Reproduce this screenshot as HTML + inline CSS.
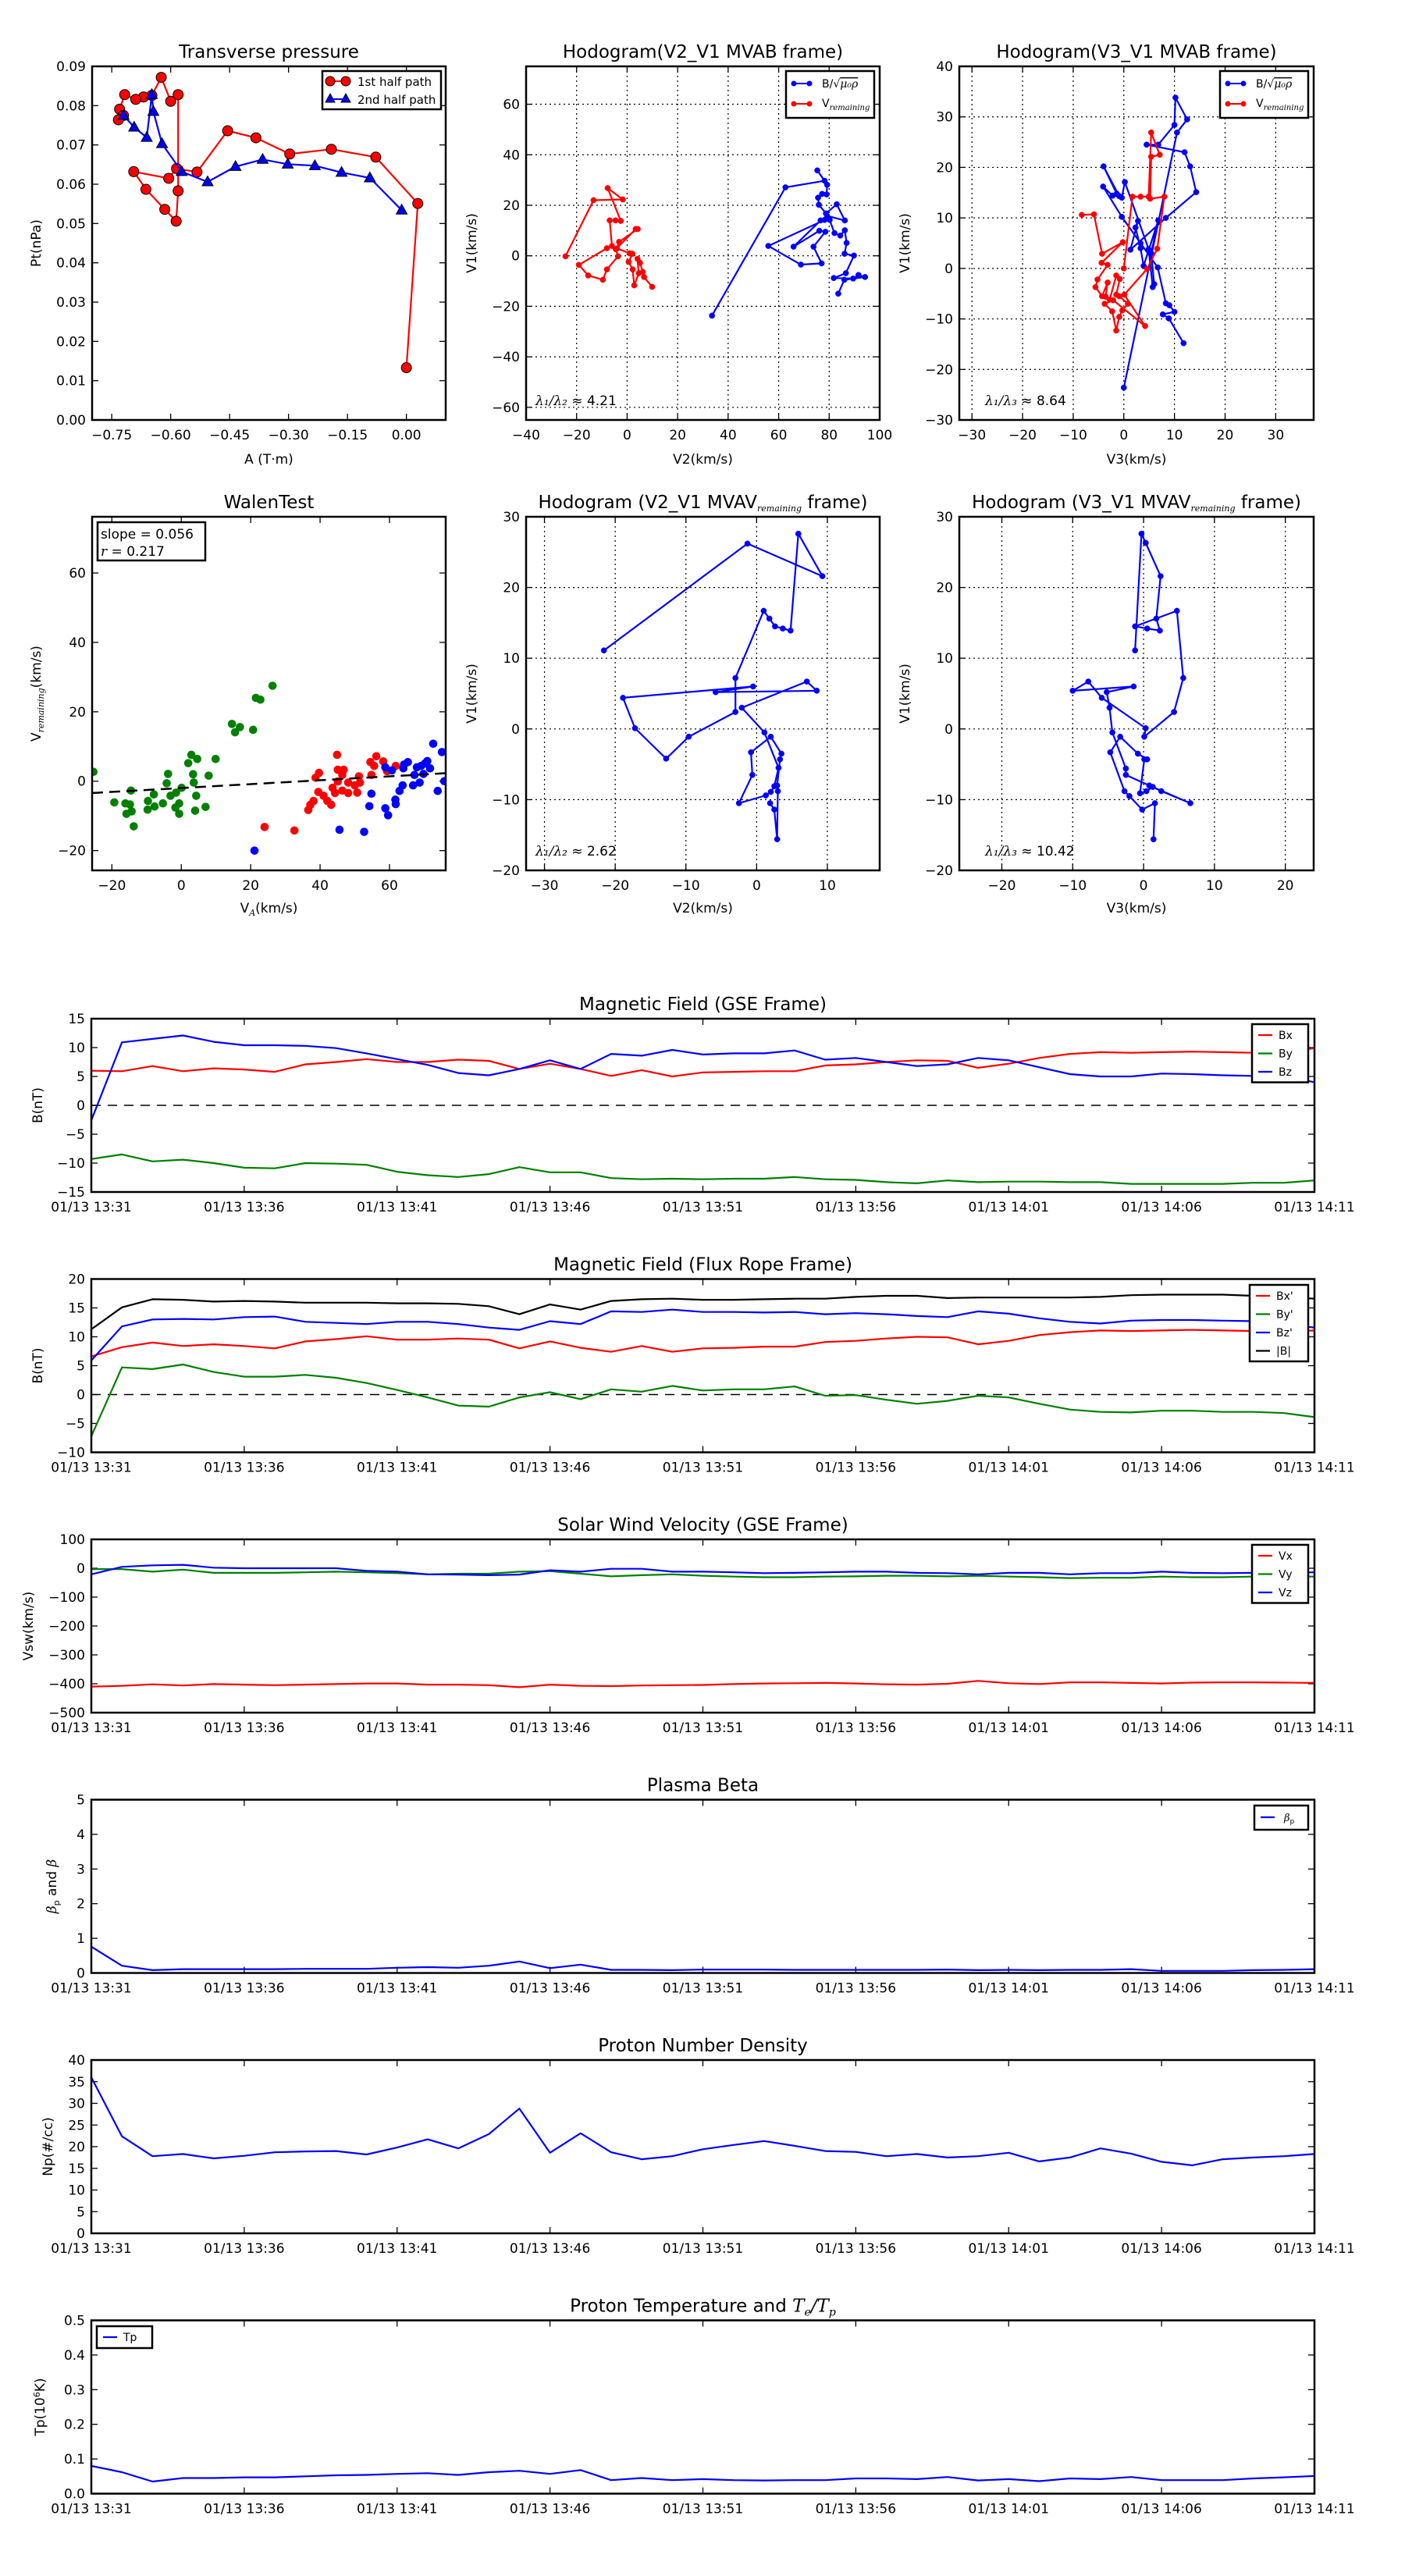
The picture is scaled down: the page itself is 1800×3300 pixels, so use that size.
<!DOCTYPE html>
<html><head><meta charset="utf-8"><title>Flux rope analysis</title>
<style>
html,body{margin:0;padding:0;background:#fff;}
svg{display:block;font-family:"DejaVu Sans","Liberation Sans",sans-serif;}
</style></head>
<body>
<svg id="fig" xmlns="http://www.w3.org/2000/svg" width="1800" height="3300" viewBox="0 0 1800 3300">
<rect x="0" y="0" width="1800" height="3300" fill="#fff"/>
</svg>
<script>
// ---------- DATA ----------
const ptRedA = [0.0,0.029,-0.078,-0.191,-0.297,-0.383,-0.455,-0.533,-0.585,-0.605,-0.694,-0.663,-0.615,-0.586,-0.581,-0.581,-0.600,-0.624,-0.648,-0.669,-0.689,-0.717,-0.730,-0.720,-0.733];
const ptRedP = [0.0133,0.0551,0.0669,0.0689,0.0677,0.0718,0.0736,0.0631,0.0640,0.0615,0.0632,0.0587,0.0536,0.0506,0.0583,0.0828,0.0811,0.0872,0.0826,0.0822,0.0816,0.0828,0.0791,0.0775,0.0764];
const ptBlueA = [-0.012,-0.093,-0.165,-0.233,-0.302,-0.366,-0.435,-0.506,-0.572,-0.622,-0.644,-0.648,-0.661,-0.693,-0.720];
const ptBlueP = [0.0534,0.0616,0.0630,0.0647,0.0651,0.0663,0.0645,0.0606,0.0632,0.0703,0.0785,0.0828,0.0719,0.0745,0.0775];

const h1B = [[33.6,-23.7],[62.7,27.1],[78.2,29.7],[75.3,33.8],[79.2,28.1],[79.0,24.3],[77.2,24.5],[75.6,23.0],[75.9,20.2],[78.7,16.8],[83.0,20.4],[86.2,14.0],[79.2,15.8],[76.6,14.0],[65.9,3.6],[76.1,9.9],[78.5,9.5],[73.8,3.6],[77.0,-3.0],[68.8,-3.5],[55.9,3.9],[78.2,14.2],[80.2,14.2],[82.1,9.0],[84.4,8.0],[86.2,10.1],[86.9,5.1],[86.1,0.8],[89.8,0.1],[86.6,-6.9],[81.8,-8.8],[89.5,-9.0],[91.6,-7.6],[94.2,-8.4],[86.0,-9.5],[83.6,-15.0]];
const h1V = [[-24.4,-0.2],[-13.3,22.0],[-1.7,22.3],[-7.7,26.8],[-2.5,13.8],[-4.6,14.0],[-6.9,14.0],[-6.0,3.9],[-8.0,3.0],[-19.1,-3.6],[-15.4,-7.8],[-9.6,-9.5],[-8.0,-5.4],[-3.6,-0.2],[-4.5,2.6],[3.4,10.6],[4.2,10.6],[-3.2,5.5],[-4.0,2.9],[1.0,1.0],[2.1,0.8],[0.6,-2.4],[2.2,-5.4],[2.8,-11.7],[4.6,-6.9],[4.1,-1.2],[5.1,-2.8],[6.2,-6.4],[6.7,-8.4],[9.9,-12.3]];
const h2B = [[0,-23.6],[10.5,26.9],[12.5,29.5],[10.2,33.8],[10.0,28.4],[6.8,24.5],[4.5,24.5],[12.0,23.0],[13.1,20.2],[14.3,15.1],[8.3,10.0],[1.3,3.7],[2.8,9.4],[2.3,8.1],[3.3,4.0],[3.9,0.5],[6.8,9.5],[5.4,3.0],[6.0,-3.1],[5.7,-3.7],[4.9,3.8],[0.2,17.1],[-0.4,14.0],[-1.4,14.8],[-4.0,20.2],[-0.9,14.3],[-2.2,14.4],[-4.1,16.2],[-0.4,10.2],[3.3,5.0],[6.7,0.2],[8.3,-6.9],[9.0,-7.3],[10.0,-8.6],[7.7,-9.1],[8.9,-9.9],[11.8,-14.8]];
const h2V = [[-8.3,10.6],[-5.9,10.7],[-4.3,2.9],[-0.2,5.2],[-4.4,1.1],[-3.2,0.7],[-5.2,-2.2],[-5.6,-3.7],[-4.3,-5.5],[-3.2,-2.8],[-3.6,-5.6],[-2.8,-6.2],[-1.5,-1.4],[-0.8,-2.1],[-1.5,-5.2],[-0.9,-5.5],[0.8,-7.0],[-0.3,-8.3],[-0.9,-9.6],[-1.5,-12.3],[-2.3,-8.5],[-3.8,-7.0],[-2.1,-6.3],[4.2,-11.4],[0.1,-5.2],[4.6,-0.1],[6.6,3.9],[8.0,14.2],[5.2,13.8],[5.4,22.1],[7.1,22.5],[5.4,26.9],[4.9,14.2],[3.3,14.2],[1.7,14.2],[0,0]];
const walenGreen = [[-25.3,2.7],[-19.3,-6.1],[-16.1,-6.4],[-14.8,-6.7],[-15.8,-9.4],[-14.3,-8.7],[-14.5,-2.7],[-13.7,-13.0],[-9.6,-5.7],[-9.7,-8.2],[-7.9,-3.8],[-7.7,-7.3],[-5.3,-6.4],[-4.2,-0.6],[-3.8,2.1],[-3.1,-4.2],[-1.7,-7.6],[-1.5,-3.3],[-0.6,-6.4],[-0.6,-9.4],[0.1,-1.9],[2.0,5.2],[2.9,7.6],[3.4,2.0],[3.6,-0.4],[4.3,-4.2],[4.0,-8.5],[4.6,6.4],[7.0,-7.4],[7.9,1.6],[9.9,6.4],[14.6,16.5],[15.5,14.1],[16.9,15.6],[20.7,14.8],[21.5,24.0],[22.8,23.5],[26.3,27.5]];
const walenRed = [[24.0,-13.2],[32.6,-14.2],[36.6,-8.3],[37.2,-6.8],[38.1,-5.7],[38.7,1.0],[39.7,2.4],[39.5,-3.1],[41.0,-4.2],[42.1,-5.7],[43.2,-6.8],[43.6,-1.9],[44.3,-3.4],[45.1,-0.1],[44.9,7.6],[45.1,3.3],[46.8,3.3],[46.4,1.8],[46.4,-2.7],[48.1,-0.4],[48.1,-3.4],[50.0,-1.2],[50.7,-3.3],[51.2,1.4],[51.5,-0.4],[54.8,1.8],[54.5,5.5],[55.6,4.4],[56.2,7.2],[58.2,5.7],[59.3,2.9],[61.8,4.4]];
const walenBlue = [[21.1,-20.0],[45.6,-14.0],[52.7,-14.6],[54.2,-7.2],[54.8,-3.6],[58.8,-7.8],[59.6,-9.8],[58.8,4.0],[60.7,3.1],[61.7,-5.3],[61.8,-6.6],[62.9,-2.8],[63.8,-1.2],[64.0,3.7],[65.3,5.5],[64.2,4.8],[66.8,-1.2],[67.2,1.8],[67.9,4.0],[68.7,-0.4],[69.1,4.4],[69.8,2.1],[70.2,5.1],[70.9,5.8],[71.7,3.7],[72.6,10.8],[73.9,-2.8],[75.1,8.4],[75.8,0.0]];
const walenSlope = 0.056;
const walenIntercept = -1.96;
const h3B = [[-21.6,11.1],[-1.3,26.2],[9.3,21.6],[5.9,27.6],[4.8,13.9],[3.7,14.2],[2.6,14.5],[1.8,15.6],[1.0,16.7],[-3.0,7.2],[-3.0,2.4],[-9.6,-1.1],[-12.8,-4.2],[-17.2,0.1],[-18.9,4.4],[-0.5,6.0],[-5.8,5.2],[8.5,5.4],[7.1,6.7],[-2.1,3.0],[1.1,-0.5],[3.1,-5.5],[2.5,-8.1],[2.0,-8.9],[1.3,-9.4],[-2.5,-10.5],[-0.6,-6.5],[-0.8,-3.3],[2.0,-1.1],[3.5,-3.5],[3.3,-4.3],[2.9,-8.0],[3.0,-8.8],[2.9,-15.6],[2.5,-11.4],[1.9,-10.5]];
const h4B = [[-1.2,11.1],[-0.3,27.6],[0.3,26.3],[2.4,21.6],[1.8,15.6],[2.3,13.9],[0.5,14.2],[-1.2,14.5],[4.7,16.7],[5.6,7.2],[4.3,2.4],[0.1,-1.1],[0.3,0.1],[-5.9,4.4],[-7.8,6.7],[-10.0,5.4],[-1.4,6.0],[-5.2,5.2],[-4.8,3.0],[-4.4,-0.5],[-2.5,-5.6],[-2.5,-6.5],[0.8,-8.0],[6.6,-10.5],[2.5,-8.8],[1.3,-8.2],[0.4,-8.8],[-0.5,-9.1],[0.1,-4.3],[0.5,-4.3],[-0.8,-3.5],[-3.3,-1.1],[-4.7,-3.3],[-2.7,-8.8],[-2.0,-9.5],[-0.2,-11.4],[1.6,-10.5],[1.4,-15.6]];

const timeLabels = ["01/13 13:31","01/13 13:36","01/13 13:41","01/13 13:46","01/13 13:51","01/13 13:56","01/13 14:01","01/13 14:06","01/13 14:11"];
const bx = [6.0,5.9,6.8,5.9,6.4,6.2,5.8,7.1,7.5,8.0,7.5,7.5,7.9,7.7,6.3,7.2,6.3,5.1,6.1,5.0,5.7,5.8,5.9,5.9,6.9,7.1,7.5,7.8,7.7,6.5,7.2,8.2,8.9,9.2,9.1,9.2,9.3,9.2,9.1,9.1,9.9];
const by = [-9.3,-8.5,-9.7,-9.4,-10.0,-10.8,-10.9,-10.0,-10.1,-10.3,-11.5,-12.1,-12.4,-11.9,-10.7,-11.6,-11.6,-12.6,-12.8,-12.7,-12.8,-12.7,-12.7,-12.4,-12.8,-12.9,-13.3,-13.5,-13.0,-13.3,-13.2,-13.2,-13.3,-13.3,-13.6,-13.6,-13.6,-13.6,-13.4,-13.4,-13.0];
const bz = [-2.6,10.9,11.5,12.1,11.0,10.4,10.4,10.3,9.9,9.0,8.0,7.0,5.6,5.2,6.3,7.8,6.3,8.9,8.6,9.6,8.8,9.0,9.0,9.5,7.9,8.2,7.5,6.8,7.1,8.2,7.8,6.6,5.4,5.0,5.0,5.5,5.4,5.2,5.1,5.1,4.0];
const bxp = [6.6,8.2,9.0,8.4,8.7,8.4,8.0,9.2,9.6,10.1,9.5,9.5,9.7,9.5,8.0,9.2,8.1,7.4,8.4,7.4,8.0,8.1,8.3,8.3,9.1,9.3,9.7,10.0,9.9,8.7,9.3,10.3,10.8,11.1,11.0,11.1,11.2,11.1,11.0,10.9,11.1];
const byp = [-7.2,4.7,4.4,5.2,3.9,3.1,3.1,3.4,2.9,2.0,0.8,-0.5,-1.9,-2.1,-0.5,0.4,-0.8,0.9,0.5,1.5,0.7,0.9,0.9,1.4,-0.2,-0.1,-0.9,-1.6,-1.1,-0.2,-0.5,-1.6,-2.6,-3.0,-3.1,-2.8,-2.8,-3.0,-3.0,-3.2,-3.9];
const bzp = [5.9,11.8,13.0,13.1,13.0,13.4,13.5,12.6,12.4,12.2,12.6,12.6,12.2,11.6,11.2,12.7,12.2,14.4,14.3,14.7,14.3,14.3,14.2,14.3,13.9,14.1,13.9,13.6,13.4,14.4,14.0,13.2,12.6,12.3,12.8,12.9,12.9,12.8,12.7,12.2,11.6];
const bmag = [11.3,15.1,16.5,16.4,16.1,16.2,16.1,15.9,15.9,15.9,15.8,15.8,15.7,15.3,13.9,15.6,14.7,16.2,16.5,16.6,16.4,16.4,16.5,16.6,16.6,16.9,17.1,17.1,16.7,16.8,16.8,16.8,16.8,16.9,17.2,17.3,17.3,17.3,17.1,16.9,16.6];
const vx = [-410,-407,-402,-406,-401,-403,-405,-403,-401,-399,-399,-403,-403,-405,-412,-403,-407,-408,-406,-405,-404,-401,-399,-398,-397,-399,-402,-403,-400,-390,-398,-401,-395,-395,-397,-399,-396,-395,-395,-396,-397];
const vy = [-3,-3,-12,-5,-16,-16,-16,-14,-12,-14,-17,-21,-19,-19,-12,-10,-19,-28,-24,-21,-26,-29,-31,-31,-29,-28,-26,-26,-28,-26,-29,-31,-34,-33,-33,-29,-31,-31,-29,-29,-29];
const vz = [-21,5,10,12,2,0,0,0,0,-9,-12,-21,-22,-24,-22,-7,-12,-2,-2,-12,-12,-14,-17,-16,-14,-12,-12,-16,-17,-21,-16,-16,-21,-17,-17,-12,-16,-17,-16,-16,-14];
const betaP = [0.76,0.21,0.08,0.11,0.11,0.11,0.11,0.12,0.12,0.12,0.15,0.17,0.15,0.21,0.33,0.14,0.24,0.09,0.09,0.08,0.10,0.10,0.10,0.09,0.09,0.09,0.09,0.09,0.10,0.08,0.09,0.08,0.09,0.09,0.11,0.06,0.06,0.06,0.08,0.09,0.11];
const np = [36,22.4,17.8,18.3,17.3,17.9,18.7,18.9,19,18.2,19.8,21.7,19.6,22.9,28.8,18.6,23.1,18.7,17.1,17.8,19.4,20.4,21.3,20.2,19,18.8,17.8,18.3,17.5,17.8,18.6,16.6,17.5,19.6,18.4,16.5,15.7,17.1,17.5,17.8,18.3];
const tp = [0.080,0.062,0.035,0.045,0.045,0.047,0.047,0.050,0.053,0.054,0.057,0.059,0.054,0.062,0.066,0.057,0.068,0.039,0.045,0.039,0.042,0.039,0.038,0.039,0.039,0.044,0.044,0.042,0.048,0.038,0.042,0.036,0.044,0.042,0.048,0.039,0.039,0.039,0.044,0.047,0.051];

// ---------- DRAWING ----------
const NS = 'http://www.w3.org/2000/svg';
const svg = document.getElementById('fig');
function el(tag, attrs, name, parent) {
  const e = document.createElementNS(NS, tag);
  for (const k in attrs) e.setAttribute(k, attrs[k]);
  
  
  (parent || svg).appendChild(e);
  return e;
}
function txt(x, y, s, size, anchor, name, extra) {
  const a = Object.assign({x: x, y: y, 'font-size': size, 'text-anchor': anchor || 'middle', fill: '#000'}, extra || {});
  const t = el('text', a, name);
  t.innerHTML = s;
  return t;
}
function fmtNum(v) { return String(v).replace('-', '\u2212'); }

function panel(c) {
  const sx = v => c.x0 + (v - c.xr[0]) / (c.xr[1] - c.xr[0]) * c.w;
  const sy = v => c.y0 + c.h - (v - c.yr[0]) / (c.yr[1] - c.yr[0]) * c.h;
  const g = el('g', {}, c.name);
  if (c.grid) {
    c.xt.forEach(v => el('line', {x1: sx(v), x2: sx(v), y1: c.y0, y2: c.y0 + c.h, stroke: '#000', 'stroke-width': 1.2, 'stroke-dasharray': '2,4'}, 'x-gridline', g));
    c.yt.forEach(v => el('line', {x1: c.x0, x2: c.x0 + c.w, y1: sy(v), y2: sy(v), stroke: '#000', 'stroke-width': 1.2, 'stroke-dasharray': '2,4'}, 'y-gridline', g));
  }
  c.xt.forEach((v, i) => {
    el('line', {x1: sx(v), x2: sx(v), y1: c.y0 + c.h, y2: c.y0 + c.h - 8, stroke: '#000', 'stroke-width': 1.3}, 'x-tick', g);
    el('line', {x1: sx(v), x2: sx(v), y1: c.y0, y2: c.y0 + 8, stroke: '#000', 'stroke-width': 1.3}, 'x-tick', g);
    txt(sx(v), c.y0 + c.h + 25, c.xl ? c.xl[i] : fmtNum(v), 17, 'middle', 'x-tick-label');
  });
  c.yt.forEach((v, i) => {
    el('line', {x1: c.x0, x2: c.x0 + 8, y1: sy(v), y2: sy(v), stroke: '#000', 'stroke-width': 1.3}, 'y-tick', g);
    el('line', {x1: c.x0 + c.w, x2: c.x0 + c.w - 8, y1: sy(v), y2: sy(v), stroke: '#000', 'stroke-width': 1.3}, 'y-tick', g);
    txt(c.x0 - 8, sy(v) + 6, c.yl ? c.yl[i] : fmtNum(v), 17, 'end', 'y-tick-label');
  });
  if (c.title) txt(c.x0 + c.w / 2, c.y0 - 11, c.title, 23, 'middle', 'chart-title');
  if (c.xlabel) txt(c.x0 + c.w / 2, c.y0 + c.h + (c.xlabelDy || 56), c.xlabel, 17, 'middle', 'x-axis-title');
  if (c.ylabel) txt(c.ylx, c.y0 + c.h / 2, c.ylabel, 17, 'middle', 'y-axis-title', {transform: 'rotate(-90 ' + c.ylx + ' ' + (c.y0 + c.h / 2) + ')'});
  return {sx, sy, c, g};
}
function frameBox(p) {
  el('rect', {x: p.c.x0, y: p.c.y0, width: p.c.w, height: p.c.h, fill: 'none', stroke: '#000', 'stroke-width': 2.5}, 'plot-frame');
}
function clipFor(p, id) {
  const cp = el('clipPath', {id: id}, 'clip');
  el('rect', {x: p.c.x0, y: p.c.y0, width: p.c.w, height: p.c.h}, 'clip-rect', cp);
  return 'url(#' + id + ')';
}
function line(p, xs, ys, color, name, clip, w) {
  const d = xs.map((x, i) => (i ? 'L' : 'M') + p.sx(x).toFixed(1) + ',' + p.sy(ys[i]).toFixed(1)).join('');
  return el('path', {d: d, fill: 'none', stroke: color, 'stroke-width': w || 2.2, 'stroke-linejoin': 'round', 'clip-path': clip || ''}, name);
}
function pairLine(p, pts, color, name, r, clip) {
  line(p, pts.map(q => q[0]), pts.map(q => q[1]), color, name + '-line', clip, 2.2);
  pts.forEach(q => el('circle', {cx: p.sx(q[0]), cy: p.sy(q[1]), r: r, fill: color, stroke: color, 'stroke-width': 0.5}, name + '-point'));
}
function legendBox(x, y, w, h) {
  el('rect', {x: x, y: y, width: w, height: h, fill: '#fff', stroke: '#000', 'stroke-width': 2.5}, 'legend');
}
const subIt = (s, fs) => '<tspan font-family="DejaVu Serif, Liberation Serif, serif" font-style="italic" font-size="' + (fs || 11) + '" dy="4">' + s + '</tspan>';

// ----- Row 1 -----
const p1 = panel({name: 'transverse-pressure-chart', x0: 118, y0: 85, w: 453, h: 453, xr: [-0.8, 0.1], yr: [0, 0.09],
  xt: [-0.75, -0.6, -0.45, -0.3, -0.15, 0], xl: ['\u22120.75', '\u22120.60', '\u22120.45', '\u22120.30', '\u22120.15', '0.00'],
  yt: [0, .01, .02, .03, .04, .05, .06, .07, .08, .09], yl: ['0.00','0.01','0.02','0.03','0.04','0.05','0.06','0.07','0.08','0.09'],
  title: 'Transverse pressure', xlabel: 'A (T\u00b7m)', ylabel: 'Pt(nPa)', ylx: 52});
line(p1, ptRedA, ptRedP, '#ff0000', 'first-half-line');
ptRedA.forEach((a, i) => el('circle', {cx: p1.sx(a), cy: p1.sy(ptRedP[i]), r: 6.5, fill: '#ff0000', stroke: '#000', 'stroke-width': 1}, 'first-half-point'));
line(p1, ptBlueA, ptBlueP, '#0000ff', 'second-half-line');
ptBlueA.forEach((a, i) => { const x = p1.sx(a), y = p1.sy(ptBlueP[i]);
  el('path', {d: 'M' + x + ',' + (y - 7.5) + 'L' + (x + 7) + ',' + (y + 5) + 'L' + (x - 7) + ',' + (y + 5) + 'Z', fill: '#0000ff', stroke: '#000', 'stroke-width': 1}, 'second-half-point'); });
frameBox(p1);
legendBox(413, 91, 152, 49);
el('line', {x1: 423, x2: 443, y1: 104, y2: 104, stroke: '#f00', 'stroke-width': 2}, 'legend-swatch');
el('circle', {cx: 423, cy: 104, r: 6, fill: '#f00', stroke: '#000'}, 'legend-marker');
el('circle', {cx: 443, cy: 104, r: 6, fill: '#f00', stroke: '#000'}, 'legend-marker');
txt(458, 110, '1st half path', 15, 'start', 'legend-label');
el('line', {x1: 423, x2: 443, y1: 127, y2: 127, stroke: '#00f', 'stroke-width': 2}, 'legend-swatch');
el('path', {d: 'M423,120L429,131L417,131Z M443,120L449,131L437,131Z', fill: '#00f', stroke: '#000'}, 'legend-marker');
txt(458, 133, '2nd half path', 15, 'start', 'legend-label');

const p2 = panel({name: 'hodogram-v2-v1-mvab', x0: 674, y0: 85, w: 453, h: 453, xr: [-40, 100], yr: [-65, 75], grid: true,
  xt: [-40, -20, 0, 20, 40, 60, 80, 100], yt: [-60, -40, -20, 0, 20, 40, 60],
  title: 'Hodogram(V2_V1 MVAB frame)', xlabel: 'V2(km/s)', ylabel: 'V1(km/s)', ylx: 610});
const c2 = clipFor(p2, 'c2');
pairLine(p2, h1B, '#0000ff', 'alfven-b', 3.6, c2);
pairLine(p2, h1V, '#ff0000', 'v-remaining', 3.6, c2);
frameBox(p2);
legendBox(1007, 91, 113, 60);
el('line', {x1: 1017, x2: 1037, y1: 107, y2: 107, stroke: '#00f', 'stroke-width': 2}, 'legend-swatch');
el('circle', {cx: 1017, cy: 107, r: 3.5, fill: '#00f'}, 'legend-marker');
el('circle', {cx: 1037, cy: 107, r: 3.5, fill: '#00f'}, 'legend-marker');
txt(1053, 112, 'B/\u221a<tspan font-family="DejaVu Serif, serif" font-style="italic" text-decoration="overline">\u03bc\u2080\u03c1</tspan>', 14, 'start', 'legend-label');
el('line', {x1: 1017, x2: 1037, y1: 133, y2: 133, stroke: '#f00', 'stroke-width': 2}, 'legend-swatch');
el('circle', {cx: 1017, cy: 133, r: 3.5, fill: '#f00'}, 'legend-marker');
el('circle', {cx: 1037, cy: 133, r: 3.5, fill: '#f00'}, 'legend-marker');
txt(1053, 137, 'V' + subIt('remaining', 10), 14, 'start', 'legend-label');
txt(686, 519, '<tspan font-family="DejaVu Serif, serif" font-style="italic">\u03bb\u2081/\u03bb\u2082</tspan> \u2248 4.21', 17, 'start', 'eigenvalue-ratio');

const p3 = panel({name: 'hodogram-v3-v1-mvab', x0: 1229, y0: 85, w: 454, h: 453, xr: [-32.5, 37.5], yr: [-30, 40], grid: true,
  xt: [-30, -20, -10, 0, 10, 20, 30], yt: [-30, -20, -10, 0, 10, 20, 30, 40],
  title: 'Hodogram(V3_V1 MVAB frame)', xlabel: 'V3(km/s)', ylabel: 'V1(km/s)', ylx: 1165});
const c3 = clipFor(p3, 'c3');
pairLine(p3, h2B, '#0000ff', 'alfven-b', 3.6, c3);
pairLine(p3, h2V, '#ff0000', 'v-remaining', 3.6, c3);
frameBox(p3);
legendBox(1563, 91, 113, 60);
el('line', {x1: 1573, x2: 1593, y1: 107, y2: 107, stroke: '#00f', 'stroke-width': 2}, 'legend-swatch');
el('circle', {cx: 1573, cy: 107, r: 3.5, fill: '#00f'}, 'legend-marker');
el('circle', {cx: 1593, cy: 107, r: 3.5, fill: '#00f'}, 'legend-marker');
txt(1609, 112, 'B/\u221a<tspan font-family="DejaVu Serif, serif" font-style="italic" text-decoration="overline">\u03bc\u2080\u03c1</tspan>', 14, 'start', 'legend-label');
el('line', {x1: 1573, x2: 1593, y1: 133, y2: 133, stroke: '#f00', 'stroke-width': 2}, 'legend-swatch');
el('circle', {cx: 1573, cy: 133, r: 3.5, fill: '#f00'}, 'legend-marker');
el('circle', {cx: 1593, cy: 133, r: 3.5, fill: '#f00'}, 'legend-marker');
txt(1609, 137, 'V' + subIt('remaining', 10), 14, 'start', 'legend-label');
txt(1262, 519, '<tspan font-family="DejaVu Serif, serif" font-style="italic">\u03bb\u2081/\u03bb\u2083</tspan> \u2248 8.64', 17, 'start', 'eigenvalue-ratio');

// ----- Row 2 -----
const p4 = panel({name: 'walen-test-chart', x0: 118, y0: 662, w: 453, h: 453, xr: [-25.7, 76.2], yr: [-25.7, 76.2],
  xt: [-20, 0, 20, 40, 60], yt: [-20, 0, 20, 40, 60],
  title: 'WalenTest', xlabel: 'V' + subIt('A') + '<tspan dy="-4">(km/s)</tspan>', xlabelDy: 54, ylabel: 'V' + subIt('remaining') + '<tspan dy="-4">(km/s)</tspan>', ylx: 52});
const c4 = clipFor(p4, 'c4');
walenGreen.forEach(q => el('circle', {cx: p4.sx(q[0]), cy: p4.sy(q[1]), r: 5.3, fill: '#008000', 'clip-path': c4}, 'walen-point-early'));
walenRed.forEach(q => el('circle', {cx: p4.sx(q[0]), cy: p4.sy(q[1]), r: 5.3, fill: '#ff0000', 'clip-path': c4}, 'walen-point-middle'));
walenBlue.forEach(q => el('circle', {cx: p4.sx(q[0]), cy: p4.sy(q[1]), r: 5.3, fill: '#0000ff', 'clip-path': c4}, 'walen-point-late'));
line(p4, [-25.7, 76.2], [-25.7 * walenSlope + walenIntercept, 76.2 * walenSlope + walenIntercept], '#000', 'walen-fit-line', c4, 2.5).setAttribute('stroke-dasharray', '14,8');
frameBox(p4);
el('rect', {x: 125, y: 669, width: 138, height: 49, fill: '#fff', stroke: '#000', 'stroke-width': 2.5}, 'walen-stats-box');
txt(129, 690, 'slope = 0.056', 17, 'start', 'walen-slope');
txt(129, 712, '<tspan font-family="DejaVu Serif, serif" font-style="italic">r</tspan> = 0.217', 17, 'start', 'walen-correlation');

const p5 = panel({name: 'hodogram-v2-v1-mvav', x0: 674, y0: 662, w: 453, h: 453, xr: [-32.6, 17.4], yr: [-20, 30], grid: true,
  xt: [-30, -20, -10, 0, 10], yt: [-20, -10, 0, 10, 20, 30],
  title: 'Hodogram (V2_V1 MVAV' + subIt('remaining') + '<tspan dy="-4"> frame)</tspan>', xlabel: 'V2(km/s)', xlabelDy: 54, ylabel: 'V1(km/s)', ylx: 610});
pairLine(p5, h3B, '#0000ff', 'alfven-b', 3.6, clipFor(p5, 'c5'));
frameBox(p5);
txt(686, 1096, '<tspan font-family="DejaVu Serif, serif" font-style="italic">\u03bb\u2081/\u03bb\u2082</tspan> \u2248 2.62', 17, 'start', 'eigenvalue-ratio');

const p6 = panel({name: 'hodogram-v3-v1-mvav', x0: 1229, y0: 662, w: 454, h: 453, xr: [-26, 24], yr: [-20, 30], grid: true,
  xt: [-20, -10, 0, 10, 20], yt: [-20, -10, 0, 10, 20, 30],
  title: 'Hodogram (V3_V1 MVAV' + subIt('remaining') + '<tspan dy="-4"> frame)</tspan>', xlabel: 'V3(km/s)', xlabelDy: 54, ylabel: 'V1(km/s)', ylx: 1165});
pairLine(p6, h4B, '#0000ff', 'alfven-b', 3.6, clipFor(p6, 'c6'));
frameBox(p6);
txt(1262, 1096, '<tspan font-family="DejaVu Serif, serif" font-style="italic">\u03bb\u2081/\u03bb\u2083</tspan> \u2248 10.42', 17, 'start', 'eigenvalue-ratio');

// ----- Time series -----
const minutes = bx.map((_, i) => i);
const tTicks = [0, 5, 10, 15, 20, 25, 30, 35, 40];
function tsPanel(name, top, yr, yt, title, ylabel, ylx, yl) {
  return panel({name: name, x0: 117, y0: top, w: 1567, h: 222, xr: [0, 40], yr: yr, xt: tTicks, xl: timeLabels, yt: yt, yl: yl,
    title: title, ylabel: ylabel, ylx: ylx});
}
function zeroLine(p) { el('line', {x1: p.c.x0, x2: p.c.x0 + p.c.w, y1: p.sy(0), y2: p.sy(0), stroke: '#000', 'stroke-width': 1.5, 'stroke-dasharray': '12,9'}, 'zero-line'); }
function tsLegend(x, y, w, entries) {
  legendBox(x, y, w, entries.length * 23.5 + 4);
  entries.forEach((e, i) => {
    const yy = y + 14 + i * 23.5;
    el('line', {x1: x + 8, x2: x + 26, y1: yy, y2: yy, stroke: e[1], 'stroke-width': 2.2}, 'legend-swatch');
    txt(x + 34, yy + 5, e[0], 14, 'start', 'legend-label');
  });
}

const t1 = tsPanel('magnetic-field-gse-chart', 1305, [-15, 15], [-15, -10, -5, 0, 5, 10, 15], 'Magnetic Field (GSE Frame)', 'B(nT)', 54);
zeroLine(t1);
line(t1, minutes, bx, '#ff0000', 'bx-line'); line(t1, minutes, by, '#008000', 'by-line'); line(t1, minutes, bz, '#0000ff', 'bz-line');
frameBox(t1);
tsLegend(1604, 1312, 72, [['Bx', '#f00'], ['By', '#008000'], ['Bz', '#00f']]);

const t2 = tsPanel('magnetic-field-flux-rope-chart', 1638.5, [-10, 20], [-10, -5, 0, 5, 10, 15, 20], 'Magnetic Field (Flux Rope Frame)', 'B(nT)', 54);
zeroLine(t2);
line(t2, minutes, bxp, '#ff0000', 'bx-prime-line'); line(t2, minutes, byp, '#008000', 'by-prime-line');
line(t2, minutes, bzp, '#0000ff', 'bz-prime-line'); line(t2, minutes, bmag, '#000000', 'b-magnitude-line');
frameBox(t2);
tsLegend(1601, 1646, 75, [["Bx'", '#f00'], ["By'", '#008000'], ["Bz'", '#00f'], ['|B|', '#000']]);

const t3 = tsPanel('solar-wind-velocity-chart', 1972, [-500, 100], [-500, -400, -300, -200, -100, 0, 100], 'Solar Wind Velocity (GSE Frame)', 'Vsw(km/s)', 42);
line(t3, minutes, vx, '#ff0000', 'vx-line'); line(t3, minutes, vy, '#008000', 'vy-line'); line(t3, minutes, vz, '#0000ff', 'vz-line');
frameBox(t3);
tsLegend(1604, 1979, 72, [['Vx', '#f00'], ['Vy', '#008000'], ['Vz', '#00f']]);

const t4 = tsPanel('plasma-beta-chart', 2305.5, [0, 5], [0, 1, 2, 3, 4, 5], 'Plasma Beta',
  '<tspan font-family="DejaVu Serif, serif" font-style="italic">\u03b2</tspan><tspan font-size="11" dy="4">p</tspan><tspan dy="-4"> and </tspan><tspan font-family="DejaVu Serif, serif" font-style="italic">\u03b2</tspan>', 72);
line(t4, minutes, betaP, '#0000ff', 'beta-p-line');
frameBox(t4);
legendBox(1607, 2313, 69, 31);
el('line', {x1: 1615, x2: 1633, y1: 2328, y2: 2328, stroke: '#00f', 'stroke-width': 2.2}, 'legend-swatch');
txt(1645, 2333, '<tspan font-family="DejaVu Serif, serif" font-style="italic">\u03b2</tspan><tspan font-size="9" dy="3">p</tspan>', 13, 'start', 'legend-label');

const t5 = tsPanel('proton-density-chart', 2639, [0, 40], [0, 5, 10, 15, 20, 25, 30, 35, 40], 'Proton Number Density', 'Np(#/cc)', 67);
line(t5, minutes, np, '#0000ff', 'density-line');
frameBox(t5);

const t6 = tsPanel('proton-temperature-chart', 2972.5, [0, 0.5], [0, 0.1, 0.2, 0.3, 0.4, 0.5], 'Proton Temperature and <tspan font-family="DejaVu Serif, serif" font-style="italic">T</tspan><tspan font-family="DejaVu Serif, serif" font-style="italic" font-size="14" dy="5">e</tspan><tspan dy="-5" font-family="DejaVu Serif, serif" font-style="italic">/T</tspan><tspan font-family="DejaVu Serif, serif" font-style="italic" font-size="14" dy="5">p</tspan>',
  'Tp(10<tspan font-size="11" dy="-6">6</tspan><tspan dy="6">K)</tspan>', 57, ['0.0', '0.1', '0.2', '0.3', '0.4', '0.5']);
line(t6, minutes, tp, '#0000ff', 'tp-line');
frameBox(t6);
legendBox(124, 2980, 71, 28);
el('line', {x1: 132, x2: 150, y1: 2994, y2: 2994, stroke: '#00f', 'stroke-width': 2.2}, 'legend-swatch');
txt(158, 2999, 'Tp', 14, 'start', 'legend-label');
</script>
</body></html>
